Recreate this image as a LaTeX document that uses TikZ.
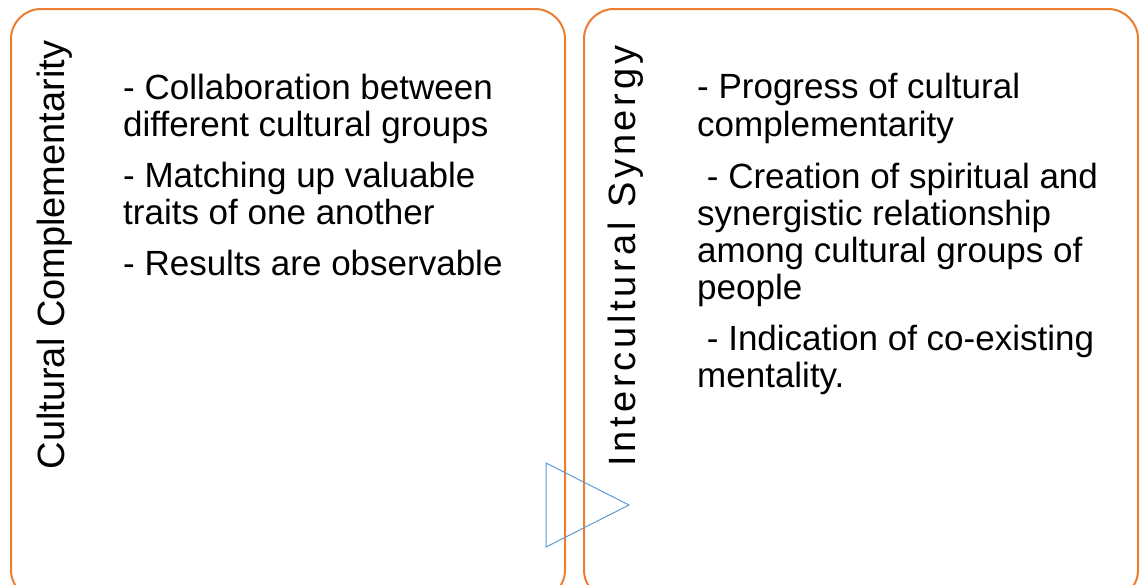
\documentclass[tikz,border=0pt]{standalone}
\usepackage{fontspec}
\setmainfont{Liberation Sans}
\newfontfamily\titleleft{Liberation Sans}
\newfontfamily\titleright[LetterSpace=10]{Liberation Sans}
\definecolor{boxorange}{HTML}{ED7D31}
\definecolor{arrowblue}{HTML}{5B9BD5}
\tikzset{
  panel/.style={draw=boxorange, line width=2pt, rounded corners=30pt},
  line/.style={anchor=base west, inner sep=0pt, font=\fontsize{35}{37.5}\selectfont},
  title/.style={rotate=90, anchor=base, inner sep=0pt, font=\fontsize{38}{40}\selectfont}
}

\begin{document}
\begin{tikzpicture}[x=1pt,y=-1pt]
      \useasboundingbox (0,0) rectangle (1140,584);
      \clip (0,0) rectangle (1140,584);

      \draw[panel] (11,9) rectangle (565,600);
      \draw[panel] (584,9) rectangle (1138,600);

      \draw[arrowblue, line width=1pt] (546,463) -- (629,505) -- (546,547) -- cycle;

      \node[title] (t1) at (64,255) {\titleleft Cultural Complementarity};
      \node[title] (t2) at (635,256) {\titleright Intercultural Synergy};

      \foreach \y/\txt [count=\i] in {99/{- Collaboration between}, 136/{different cultural groups},
          187/{- Matching up valuable}, 224/{traits of one another}, 275/{- Results are observable}}
        \node[line] (a\i) at (123,\y) {\txt};

      \foreach \y/\txt [count=\i] in {98/{- Progress of cultural}, 136/{complementarity},
          188/{\ - Creation of spiritual and}, 225/{synergistic relationship}, 262/{among cultural groups of},
          299/{people}, 350/{\ - Indication of co-existing}, 387/{mentality.}}
        \node[line] (b\i) at (697,\y) {\txt};
  \end{tikzpicture}
\end{document}
